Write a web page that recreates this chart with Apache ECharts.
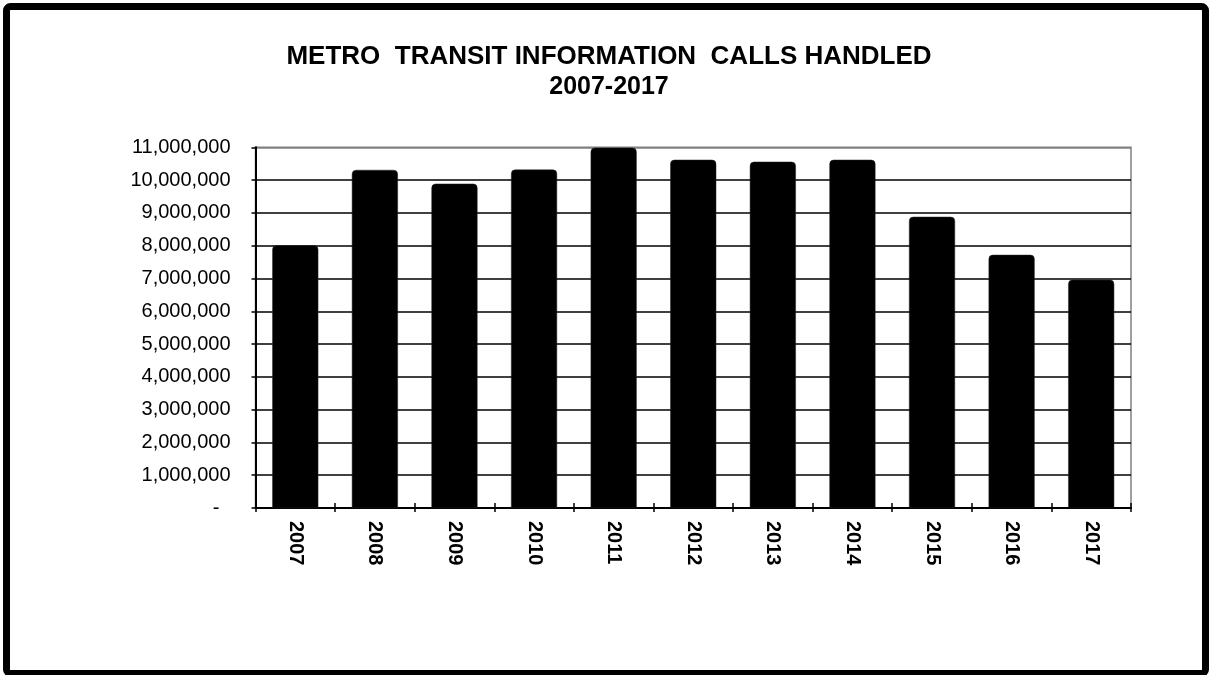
<!DOCTYPE html>
<html>
<head>
<meta charset="utf-8">
<title>Metro Transit Information Calls Handled 2007-2017</title>
<script src="https://cdn.jsdelivr.net/npm/echarts@6/dist/echarts.min.js"></script>
<style>
  html, body { margin: 0; padding: 0; background: #fff; }
  #chart { width: 1209px; height: 675px; }
</style>
</head>
<body>
<div id="chart"></div>
<script>
// Years on the category axis
const years = ['2007', '2008', '2009', '2010', '2011', '2012', '2013', '2014', '2015', '2016', '2017'];
// Information calls handled per year
const callsHandled = [8010000, 10310000, 9890000, 10320000, 10990000, 10620000, 10560000, 10620000, 8880000, 7720000, 6960000];
// Title lines
const titleMain = 'METRO  TRANSIT INFORMATION  CALLS HANDLED';
const titleYears = '2007-2017';

const FONT = '"Liberation Sans", Arial, sans-serif';

const chart = echarts.init(document.getElementById('chart'), null, { renderer: 'canvas' });

// Value labels in thousands-separated form; zero shown as a dash
function fmtValue(v) {
  if (v === 0) return '-  ';
  return v.toLocaleString('en-US');
}

chart.setOption({
  animation: false,
  backgroundColor: '#ffffff',
  title: {
    text: '{a|' + titleMain + '}\n{b|' + titleYears + '}',
    left: 604,
    top: 36,
    textAlign: 'center',
    textStyle: {
      fontFamily: FONT,
      fontWeight: 'bold',
      fontSize: 25,
      lineHeight: 31,
      color: '#000',
      rich: {
        a: { fontFamily: FONT, fontWeight: 'bold', fontSize: 26, lineHeight: 31, color: '#000' },
        b: { fontFamily: FONT, fontWeight: 'bold', fontSize: 25, lineHeight: 31, color: '#000' }
      }
    }
  },
  grid: {
    left: 255.5,
    right: 78,
    top: 147.3,
    bottom: 167,
    show: true,
    borderColor: '#808080',
    borderWidth: 1.5,
    backgroundColor: 'transparent'
  },
  xAxis: [
    {
      type: 'category',
      data: years,
      boundaryGap: true,
      axisLine: { show: true, lineStyle: { color: '#000', width: 2 } },
      axisTick: { show: true, inside: false, length: 4, lineStyle: { color: '#000', width: 1.5 } },
      axisLabel: {
        rotate: -90,
        margin: 13,
        fontFamily: FONT,
        fontWeight: 'bold',
        fontSize: 20,
        color: '#000'
      },
      splitLine: { show: false }
    },
    {
      // companion axis that draws the inner half of the crossing ticks
      type: 'category',
      data: years,
      position: 'bottom',
      boundaryGap: true,
      axisLine: { show: false },
      axisTick: { show: true, inside: true, length: 5, lineStyle: { color: '#000', width: 1.5 } },
      axisLabel: { show: false },
      splitLine: { show: false }
    }
  ],
  yAxis: {
    type: 'value',
    min: 0,
    max: 11000000,
    interval: 1000000,
    axisLine: { show: true, lineStyle: { color: '#000', width: 2 } },
    axisTick: { show: true, inside: false, length: 4, lineStyle: { color: '#000', width: 1.5 } },
    axisLabel: {
      margin: 25,
      fontFamily: FONT,
      fontSize: 20,
      color: '#000',
      formatter: fmtValue
    },
    splitLine: {
      show: true,
      lineStyle: {
        color: ['#000', '#000', '#000', '#000', '#000', '#000', '#000', '#000', '#000', '#000', '#000', '#808080'],
        width: 1.5
      }
    }
  },
  series: [
    {
      type: 'bar',
      xAxisIndex: 0,
      data: callsHandled,
      barWidth: 46,
      itemStyle: {
        color: '#000',
        borderColor: '#222',
        borderWidth: 0.5,
        borderRadius: [4, 4, 0, 0]
      },
      z: 3
    }
  ],
  graphic: [
    {
      type: 'rect',
      shape: { x: 6.5, y: 6.5, width: 1199, height: 667, r: 4 },
      style: { fill: 'none', stroke: '#000', lineWidth: 7 },
      z: 100
    }
  ]
});
</script>
</body>
</html>
